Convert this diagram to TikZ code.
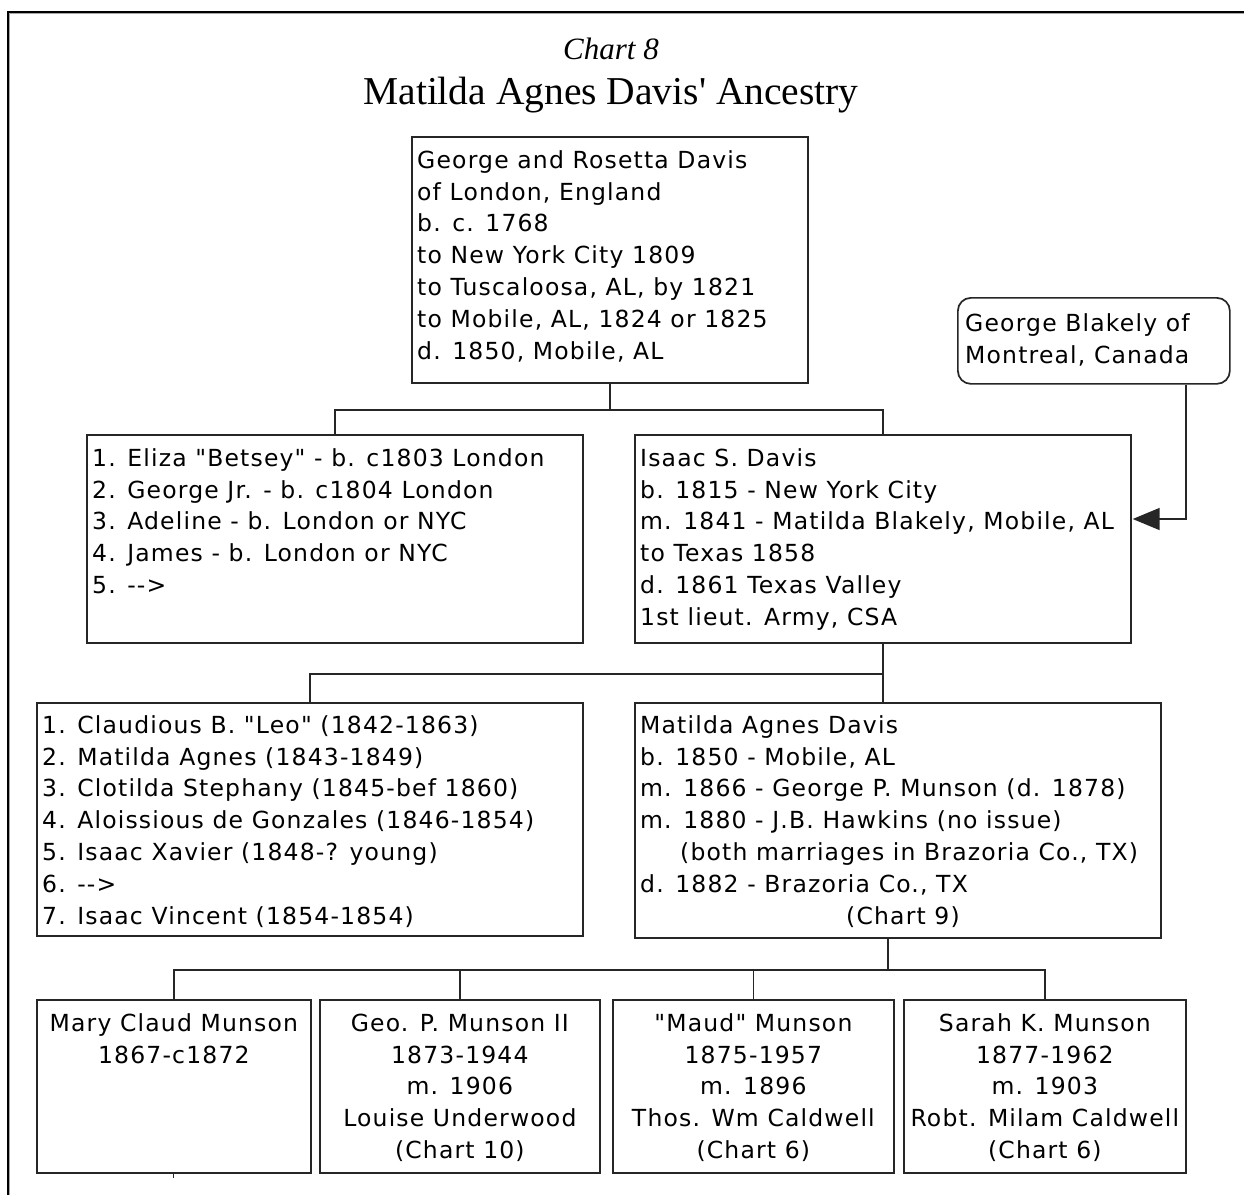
\documentclass[tikz,border=0pt]{standalone}
\usepackage{fontspec}
\usetikzlibrary{arrows.meta,calc}
\newfontfamily\boxfont[LetterSpace=5,Ligatures=TeXOff]{DejaVu Sans}
\newfontfamily\headfont[Ligatures=TeXOff]{Liberation Serif}
\newcommand\tstrut{\rule{0pt}{19pt}}

\begin{document}
\begin{tikzpicture}[x=1pt,y=-1pt,
  box/.style={draw=black!85, line width=1.7pt, inner sep=0pt, anchor=north west},
  roundbox/.style={box, rounded corners=13pt},
  txt/.style={inner sep=0pt, anchor=north west, align=left,
    font=\boxfont\fontsize{23.5}{31.8}\selectfont},
  ctxt/.style={txt, anchor=north, align=center},
  link/.style={draw=black!85, line width=1.7pt},
]
\useasboundingbox (0,0) rectangle (1244,1195);
\fill[white] (0,0) rectangle (1244,1195);

% page frame (left and top edges)
\draw[black, line width=2pt] (8,1195) -- (8,12) -- (1244,12);
\draw[black!35, line width=1pt] (9.8,1195) -- (9.8,13.8) -- (1244,13.8);

% headings
\node[font=\headfont\itshape\fontsize{31}{31}\selectfont, anchor=base, inner sep=0pt] (chart) at (611,59) {Chart 8};
\node[font=\headfont\fontsize{39.5}{40}\selectfont, anchor=base, inner sep=0pt] (title) at (611,104) {Matilda Agnes Davis' Ancestry};

% boxes
\node[box, minimum width=396pt, minimum height=246pt] (top) at (411,136) {};
\node[box, minimum width=496pt, minimum height=208pt] (sib) at (86,434) {};
\node[box, minimum width=496pt, minimum height=208pt] (isaac) at (634,434) {};
\node[roundbox, minimum width=272pt, minimum height=86pt] (blakely) at (957,297) {};
\node[box, minimum width=546pt, minimum height=233pt] (kids) at (36,702) {};
\node[box, minimum width=526pt, minimum height=235pt] (matilda) at (634,702) {};
\node[box, minimum width=274pt, minimum height=173pt] (c1) at (36,999) {};
\node[box, minimum width=280pt, minimum height=173pt] (c2) at (319,999) {};
\node[box, minimum width=281pt, minimum height=173pt] (c3) at (612,999) {};
\node[box, minimum width=282pt, minimum height=173pt] (c4) at (903,999) {};

% box texts
\node[txt] (topt) at ($(top.north west)+(6,13)$) {\tstrut George and Rosetta Davis\\of London, England\\b. c. 1768\\to New York City 1809\\to Tuscaloosa, AL, by 1821\\to Mobile, AL, 1824 or 1825\\d. 1850, Mobile, AL};
\node[txt] (sibt) at ($(sib.north west)+(6,13)$) {\tstrut 1. Eliza "Betsey" - b. c1803 London\\2. George Jr. - b. c1804 London\\3. Adeline - b. London or NYC\\4. James - b. London or NYC\\5. -->};
\node[txt] (isaact) at ($(isaac.north west)+(6,13)$) {\tstrut Isaac S. Davis\\b. 1815 - New York City\\m. 1841 - Matilda Blakely, Mobile, AL\\to Texas 1858\\d. 1861 Texas Valley\\1st lieut. Army, CSA};
\node[txt] (blakelyt) at ($(blakely.north west)+(8,15)$) {\tstrut George Blakely of\\Montreal, Canada};
\node[txt] (kidst) at ($(kids.north west)+(6,12)$) {\tstrut 1. Claudious B. "Leo" (1842-1863)\\2. Matilda Agnes (1843-1849)\\3. Clotilda Stephany (1845-bef 1860)\\4. Aloissious de Gonzales (1846-1854)\\5. Isaac Xavier (1848-? young)\\6. -->\\7. Isaac Vincent (1854-1854)};
\node[txt] (matildat) at ($(matilda.north west)+(6,12)$) {\tstrut Matilda Agnes Davis\\b. 1850 - Mobile, AL\\m. 1866 - George P. Munson (d. 1878)\\m. 1880 - J.B. Hawkins (no issue)\\\hspace*{40pt}(both marriages in Brazoria Co., TX)\\d. 1882 - Brazoria Co., TX\\\hspace*{206pt}(Chart 9)};
\node[ctxt] (c1t) at ($(c1.north)+(0,13)$) {\tstrut Mary Claud Munson\\1867-c1872};
\node[ctxt] (c2t) at ($(c2.north)+(0,13)$) {\tstrut Geo. P. Munson II\\1873-1944\\m. 1906\\Louise Underwood\\(Chart 10)};
\node[ctxt] (c3t) at ($(c3.north)+(0,13)$) {\tstrut "Maud" Munson\\1875-1957\\m. 1896\\Thos. Wm Caldwell\\(Chart 6)};
\node[ctxt] (c4t) at ($(c4.north)+(0,13)$) {\tstrut Sarah K. Munson\\1877-1962\\m. 1903\\Robt. Milam Caldwell\\(Chart 6)};

% connectors
\draw[link] (top.south) -- ++(0,26) coordinate (j1);
\draw[link] (sib.north) |- (j1) -| (isaac.north);

\draw[link] (isaac.south) -- ++(0,30) coordinate (j2);
\draw[link] (kids.north) |- (j2) -- (isaac.south |- matilda.north);

\coordinate (m) at ($(matilda.south west)+(254,0)$);
\draw[link] (m) -- ++(0,31) coordinate (j3);
\draw[link] (c1.north) |- (j3) -| (c4.north);
\draw[link] (c2.north) -- (c2.north |- j3);
\draw[link] (c3.north) -- (c3.north |- j3);
\draw[link, line width=1pt] (c1.south) -- ++(0,4);

\draw[link, -{Triangle[length=27pt,width=22pt]}]
  ($(blakely.south east)+(-45,0)$) |- ($(isaac.north east)+(1,85)$);
\end{tikzpicture}
\end{document}
